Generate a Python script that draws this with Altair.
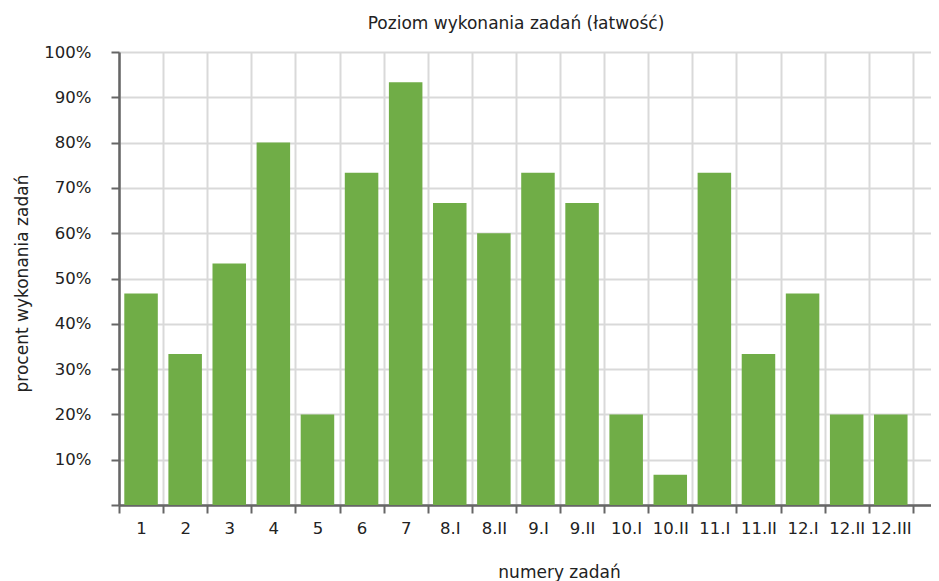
import altair as alt
import pandas as pd

# --- data ---
zadania = ["1", "2", "3", "4", "5", "6", "7", "8.I", "8.II", "9.I", "9.II",
           "10.I", "10.II", "11.I", "11.II", "12.I", "12.II", "12.III"]
latwosc = [0.4667, 0.3333, 0.5333, 0.80, 0.20, 0.7333, 0.9333, 0.6667, 0.60,
           0.7333, 0.6667, 0.20, 0.0667, 0.7333, 0.3333, 0.4667, 0.20, 0.20]
y_ticks = [0.0, 0.1, 0.2, 0.3, 0.4, 0.5, 0.6, 0.7, 0.8, 0.9, 1.0]

df = pd.DataFrame({"zadanie": zadania, "latwosc": latwosc})

FONT = "DejaVu Sans"
TXT = "#222222"
AX = "#666666"
GRID = "#d9d9d9"

chart = alt.Chart(df).mark_bar(
    color="#70ad47", width=alt.RelativeBandSize(band=0.76)
).encode(
    x=alt.X(
        "zadanie:N", sort=None, title="numery zadań",
        scale=alt.Scale(paddingInner=0, paddingOuter=0.206, align=0),
        axis=alt.Axis(
            tickBand="extent", labelAngle=0, grid=True, labelOverlap=False,
            tickSize=8, tickWidth=2, labelPadding=7,
            domainWidth=2.5, domainColor=AX, tickColor=AX,
            gridColor=GRID, gridWidth=2,
            titleX=440, titleY=72, titleAlign="center", titleBaseline="alphabetic",
        ),
    ),
    y=alt.Y(
        "latwosc:Q", title="procent wykonania zadań",
        scale=alt.Scale(domain=[0, 1], nice=False),
        axis=alt.Axis(
            values=y_ticks,
            labelExpr="datum.value == 0 ? '' : format(datum.value, '.0%')",
            tickSize=8, tickWidth=2, labelPadding=20,
            domainWidth=2.5, domainColor=AX, tickColor=AX,
            gridColor=GRID, gridWidth=2,
            titleAngle=270, titleX=-97, titleY=231, titleAlign="center",
            titleBaseline="middle",
        ),
    ),
).properties(
    width=812,
    height=453,
    autosize=alt.AutoSizeParams(type="none"),
    padding={"left": 111, "top": 44, "right": 0, "bottom": 76},
    title=alt.TitleParams(
        "Poziom wykonania zadań (łatwość)", font=FONT, fontSize=17,
        fontWeight="normal", color=TXT, frame="group", anchor="middle",
        baseline="alphabetic", offset=22, dx=-9, dy=24,
    ),
).configure_axis(
    labelFont=FONT, labelFontSize=16.5, labelColor=TXT,
    titleFont=FONT, titleFontSize=17, titleFontWeight="normal", titleColor=TXT,
).configure_view(
    strokeWidth=0
)

chart.save("out.html", embed_options={"renderer": "svg", "actions": False})
